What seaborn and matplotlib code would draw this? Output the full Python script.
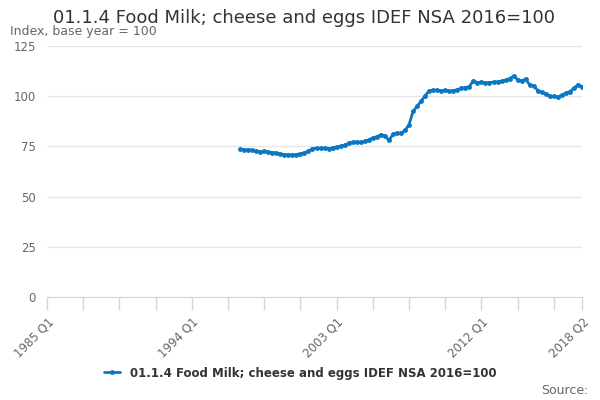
import numpy as np
import pandas as pd
import matplotlib
matplotlib.use("Agg")
import matplotlib.pyplot as plt
import seaborn as sns

# quarterly index values, 1997 Q1 .. 2018 Q2
start_year = 1997
values = [
    73.5, 73.4, 73.3, 73.1, 72.8, 72.2, 72.6, 72.1, 71.9, 71.8,
    71.3, 70.9, 70.8, 70.8, 70.9, 71.3, 71.8, 72.6, 73.9, 74.1,
    74.0, 74.1, 73.9, 74.3, 74.7, 75.1, 75.6, 76.6, 77.1, 77.2,
    77.0, 77.5, 78.3, 79.3, 79.8, 80.8, 80.3, 78.0, 81.0, 81.6,
    81.7, 83.0, 85.8, 92.4, 95.0, 97.5, 100.2, 102.7, 102.9, 103.0,
    102.7, 102.9, 102.5, 102.8, 103.2, 104.0, 104.3, 104.8, 107.8, 106.6,
    107.0, 106.7, 106.8, 107.0, 107.2, 107.5, 108.0, 108.8, 110.0, 108.3,
    107.6, 108.6, 105.5, 105.2, 102.8, 102.0, 101.3, 100.0, 99.9, 99.6,
    100.6, 101.6, 102.3, 104.0, 105.7, 104.8,
]
series_name = "01.1.4 Food Milk; cheese and eggs IDEF NSA 2016=100"
tick_labels = ["1985 Q1", "1994 Q1", "2003 Q1", "2012 Q1", "2018 Q2"]

def quarter_index(label):
    y, q = label.split(" Q")
    return (int(y) - 1985) * 4 + int(q) - 1

first = quarter_index(f"{start_year} Q1")
df = pd.DataFrame({"q": np.arange(first, first + len(values)), "value": values})

sns.set_style("white")
plt.rcParams["font.family"] = ["DejaVu Sans"]

fig = plt.figure(figsize=(6, 4), dpi=100)
ax = fig.add_axes([47 / 600, 1 - 297 / 400, 535 / 600, 251 / 400])

blue = "#0a77c2"
sns.lineplot(data=df, x="q", y="value", ax=ax, color=blue, linewidth=2,
             marker="o", markersize=3.5, markeredgewidth=0, label=series_name)

last = quarter_index(tick_labels[-1])
ax.set_xlim(0, last)
ax.set_ylim(0, 125)
ax.set_yticks([0, 25, 50, 75, 100, 125])
ax.yaxis.grid(True, color="#e6e6e6", linewidth=1)
ax.xaxis.grid(False)

major = [quarter_index(t) for t in tick_labels]
ax.set_xticks(major)
ax.set_xticklabels(tick_labels, rotation=45, ha="right", rotation_mode="anchor")
ax.set_xticks([t for t in range(0, last, 9) if t not in major], minor=True)
ax.tick_params(axis="x", which="both", bottom=True, length=9, width=1,
               color="#ccd6eb", direction="out", labelsize=8.5,
               labelcolor="#666666", pad=4)
ax.tick_params(axis="y", length=0, labelsize=8.5, labelcolor="#666666", pad=8)

for s in ["top", "right", "left"]:
    ax.spines[s].set_visible(False)
ax.spines["bottom"].set_color("#ccd6eb")
ax.set_xlabel("")
ax.set_ylabel("")

leg = ax.legend(loc="center", bbox_to_anchor=(300 / 600, 1 - 373 / 400),
                bbox_transform=fig.transFigure, frameon=False,
                prop={"size": 8.5, "weight": "bold"}, handlelength=1.4)
for t in leg.get_texts():
    t.set_color("#333333")

fig.text(304 / 600, 1 - 18 / 400, series_name, ha="center", va="center",
         fontsize=13, color="#333333")
fig.text(10 / 600, 1 - 32 / 400, "Index, base year = 100", ha="left",
         va="center", fontsize=9, color="#666666")
fig.text(589 / 600, 1 - 390 / 400, "Source:", ha="right", va="center",
         fontsize=9, color="#666666")

fig.savefig("out.png", dpi=100)
